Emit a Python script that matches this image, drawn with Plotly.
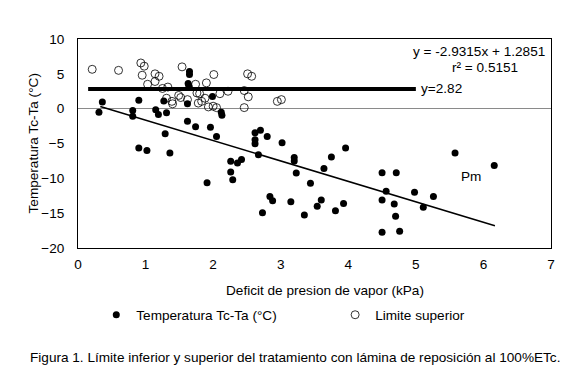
import plotly.graph_objects as go

# Measured points: Temperatura Tc-Ta (filled)
temp_x = [0.36, 0.31, 0.90, 0.81, 0.81, 1.15, 1.19, 1.31, 1.27, 1.65, 1.65, 1.63, 1.64, 1.62,
          1.99, 2.12, 2.13, 1.62, 1.74, 1.96, 2.05, 1.29, 0.90, 1.02, 1.36, 2.62, 2.70,
          2.80, 2.62, 2.62, 3.02, 2.67, 3.20, 3.20, 2.26, 2.26, 2.29, 2.36, 2.42, 1.91,
          3.23, 3.44, 2.84, 2.88, 3.15, 2.73, 3.35, 3.54, 3.60, 3.96, 3.75, 3.64, 3.81,
          3.93, 4.50, 4.71, 4.56, 4.50, 4.68, 4.70, 4.50, 4.76, 4.98, 5.11, 5.26, 5.58,
          6.16]
temp_y = [0.95, -0.5, 1.2, -0.25, -1.1, -0.15, -0.85, -0.6, 1.1, 5.35, 4.9, 3.6, 3.3, 0.7,
          1.75, -0.5, -0.95, -1.8, -2.6, -2.65, -4.0, -3.6, -5.65, -6.0, -6.35, -3.45, -3.1,
          -4.0, -4.45, -5.05, -4.9, -6.6, -7.0, -7.5, -7.55, -9.1, -10.2, -7.8, -7.3, -10.65,
          -9.25, -10.7, -12.6, -13.2, -13.35, -14.95, -15.25, -14.0, -13.1, -5.65, -6.95, -8.6, -14.65,
          -13.6, -9.2, -9.2, -11.85, -13.1, -13.7, -15.45, -17.75, -17.6, -12.0, -14.15, -12.6, -6.35,
          -8.15]

# Limite superior (open)
lim_x = [0.21, 0.60, 0.93, 0.98, 0.95, 1.14, 1.20, 1.03, 1.14, 1.25, 1.33, 1.31, 1.39, 1.40,
         1.49, 1.52, 1.54, 1.62, 1.74, 1.76, 1.80, 1.78, 1.83, 1.88, 1.90, 1.93, 2.01, 2.00,
         2.05, 2.10, 2.22, 2.46, 2.52, 2.46, 2.51, 2.57, 2.95, 3.01]
lim_y = [5.65, 5.5, 6.56, 6.1, 4.8, 5.0, 4.65, 3.5, 3.9, 2.9, 3.1, 1.5, 1.05, 0.7,
         1.9, 1.6, 6.0, 1.3, 3.5, 2.25, 2.15, 0.8, 1.05, 1.5, 3.7, 0.25, 4.9, 0.35,
         0.15, 2.15, 2.5, 2.6, 1.7, 0.15, 5.0, 4.65, 1.05, 1.3]

# Regression: y = -2.9315x + 1.2851 over observed range
slope, intercept = -2.9315, 1.2851
reg_x = [0.33, 6.17]
reg_y = [slope * v + intercept for v in reg_x]

# Upper limit line y = 2.82
upper_val = 2.82
upper_x = [0.15, 5.0]
upper_y = [upper_val, upper_val]

x_ticks = [0, 1, 2, 3, 4, 5, 6, 7]
y_ticks = [10, 5, 0, -5, -10, -15, -20]

FONT = "Liberation Sans, Arial, sans-serif"
FS = 13.6

fig = go.Figure()
fig.add_trace(go.Scatter(x=temp_x, y=temp_y, mode="markers", name="Temperatura Tc-Ta (°C)",
                         legend="legend",
                         marker=dict(symbol="circle", size=7, color="black",
                                     line=dict(width=0))))
fig.add_trace(go.Scatter(x=lim_x, y=lim_y, mode="markers", name="Limite superior",
                         legend="legend2",
                         marker=dict(symbol="circle-open", size=8, color="black",
                                     line=dict(width=0.8, color="black"))))
fig.add_trace(go.Scatter(x=reg_x, y=reg_y, mode="lines", showlegend=False,
                         line=dict(color="black", width=1.5)))
fig.add_trace(go.Scatter(x=upper_x, y=upper_y, mode="lines", showlegend=False,
                         line=dict(color="black", width=4)))

annotations = [
    dict(x=547, y=51, text="y = -2.9315x + 1.2851", xanchor="right"),
    dict(x=485, y=67.5, text="r² = 0.5151", xanchor="center"),
    dict(x=419, y=88.5, text="y=2.82", xanchor="left"),
    dict(x=459, y=176, text="Pm", xanchor="left"),
    dict(x=325, y=290, text="Deficit de presion de vapor (kPa)", xanchor="center"),
    dict(x=33, y=143, text="Temperatura Tc-Ta (°C)", xanchor="center", textangle=-90),
    dict(x=294.5, y=357, text="Figura 1. Límite inferior y superior del tratamiento con lámina de reposición al 100%ETc.",
         xanchor="center"),
]
L, R, T, B = 77.7, 551.0, 39.0, 247.7
W, H = 569, 372
ann_objs = []
for a in annotations:
    d = dict(xref="paper", yref="paper", showarrow=False,
             x=(a["x"] - L) / (R - L), y=(B - a["y"]) / (B - T),
             text=a["text"], xanchor=a["xanchor"], yanchor="middle",
             font=dict(family=FONT, size=FS, color="black"))
    if "textangle" in a:
        d["textangle"] = a["textangle"]
    ann_objs.append(d)


def legend_at(px, py):
    return dict(orientation="h", x=(px - L) / (R - L), xanchor="left",
                y=(B - py) / (B - T), yanchor="middle",
                font=dict(family=FONT, size=FS, color="black"),
                bgcolor="rgba(0,0,0,0)", borderwidth=0)


fig.update_layout(
    width=W, height=H,
    margin=dict(l=L, r=W - R, t=T, b=H - B, pad=0, autoexpand=False),
    paper_bgcolor="white", plot_bgcolor="white",
    font=dict(family=FONT, size=FS, color="black"),
    showlegend=True,
    legend=legend_at(96, 314.5),
    legend2=legend_at(335, 314.5),
    annotations=ann_objs,
    xaxis=dict(range=[0, 7], tickvals=x_ticks, ticks="", showgrid=False, zeroline=False,
               showline=True, linecolor="black", linewidth=1, mirror=True,
               ticklabelstandoff=4,
               tickfont=dict(family=FONT, size=FS, color="black")),
    yaxis=dict(range=[-20, 10], tickvals=y_ticks, ticks="", showgrid=False,
               zeroline=True, zerolinecolor="#8a8a8a", zerolinewidth=1,
               showline=True, linecolor="black", linewidth=1, mirror=True,
               ticklabelstandoff=10,
               tickfont=dict(family=FONT, size=FS, color="black")),
)

fig.write_html("out.html", config={"displayModeBar": False},
               post_script="document.body.style.margin='0px';")
